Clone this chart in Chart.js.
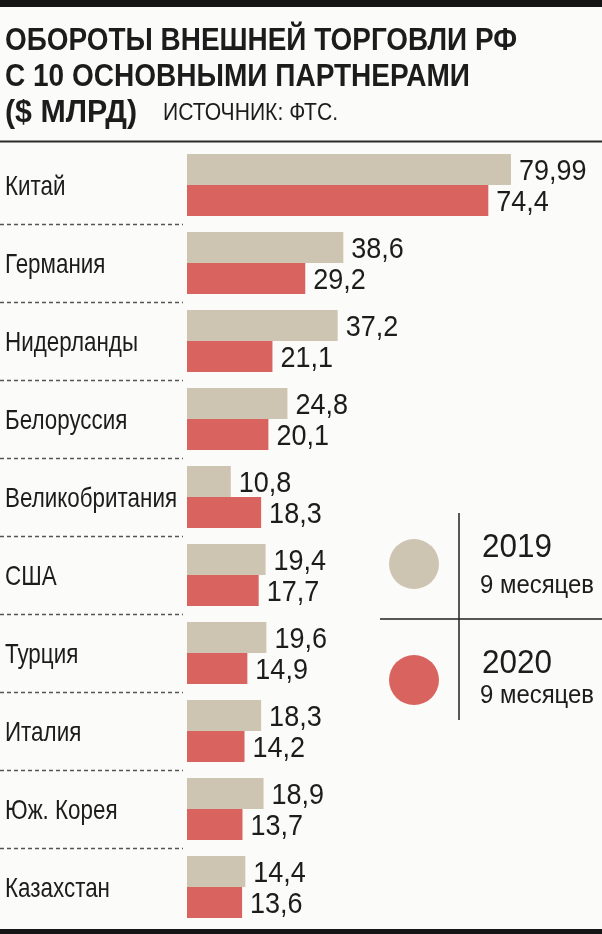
<!DOCTYPE html>
<html>
<head>
<meta charset="utf-8">
<script src="https://cdn.jsdelivr.net/npm/chart.js@4/dist/chart.umd.min.js"></script>
<style>
  html, body { margin: 0; padding: 0; background: #fbfbfa; }
  #wrap { position: relative; width: 602px; height: 934px; }
</style>
</head>
<body>
<div id="wrap"><canvas id="tradeChart" width="602" height="934"></canvas></div>
<script>
const categories = ['Китай', 'Германия', 'Нидерланды', 'Белоруссия', 'Великобритания',
                    'США', 'Турция', 'Италия', 'Юж. Корея', 'Казахстан'];
const values2019 = [79.99, 38.6, 37.2, 24.8, 10.8, 19.4, 19.6, 18.3, 18.9, 14.4];
const values2020 = [74.4, 29.2, 21.1, 20.1, 18.3, 17.7, 14.9, 14.2, 13.7, 13.6];
const seriesLabels = ['2019', '2020'];
const seriesNote = '9 месяцев';
const titleLines = ['ОБОРОТЫ ВНЕШНЕЙ ТОРГОВЛИ РФ', 'С 10 ОСНОВНЫМИ ПАРТНЕРАМИ', '($ МЛРД)'];
const sourceText = 'ИСТОЧНИК: ФТС.';

const GRAY = '#cdc4b1';
const RED = '#d9635f';
const INK = '#1c1c1c';
const FONT = '"Liberation Sans", Arial, sans-serif';

function fmt(v) {
    return String(v).replace('.', ',');
}

// the reference uses a condensed face, so squeeze the text horizontally
function narrowText(ctx, text, x, y, sx) {
    ctx.save();
    ctx.translate(x, y);
    ctx.scale(sx, 1);
    ctx.fillText(text, 0, 0);
    ctx.restore();
}

const decorPlugin = {
    id: 'decor',
    beforeDraw(chart) {
        const ctx = chart.ctx;
        ctx.save();
        ctx.fillStyle = '#fbfbfa';
        ctx.fillRect(0, 0, chart.width, chart.height);
        // top and bottom black rules
        ctx.fillStyle = '#151515';
        ctx.fillRect(0, 0, 602, 7);
        ctx.fillRect(0, 929, 602, 5);
        // rule under the title
        ctx.fillStyle = '#2a2a2a';
        ctx.fillRect(0, 140.5, 602, 2);

        ctx.fillStyle = INK;
        ctx.textBaseline = 'alphabetic';
        ctx.textAlign = 'left';
        ctx.font = 'bold 31px ' + FONT;
        ctx.fillText(titleLines[0], 5, 50, 512);
        ctx.fillText(titleLines[1], 5, 86, 465);
        ctx.fillText(titleLines[2], 5, 122, 132);
        ctx.font = '24px ' + FONT;
        ctx.fillText(sourceText, 163, 120, 175);

        // dotted separators between groups
        const y = chart.scales.y;
        ctx.strokeStyle = '#555';
        ctx.lineWidth = 1.5;
        ctx.setLineDash([4, 3]);
        for (let i = 0; i < categories.length - 1; i++) {
            const yy = Math.round((y.getPixelForValue(i) + y.getPixelForValue(i + 1)) / 2) + 0.5;
            ctx.beginPath();
            ctx.moveTo(0, yy);
            ctx.lineTo(183, yy);
            ctx.stroke();
        }
        ctx.setLineDash([]);

        // category labels, placed on the y scale
        ctx.font = '28px ' + FONT;
        ctx.textBaseline = 'middle';
        categories.forEach((c, i) => {
            narrowText(ctx, c, 5, y.getPixelForValue(i) + 2, 0.8);
        });
        ctx.restore();
    },
    afterDatasetsDraw(chart) {
        const ctx = chart.ctx;
        ctx.save();
        ctx.fillStyle = INK;
        ctx.font = '30px ' + FONT;
        ctx.textAlign = 'left';
        ctx.textBaseline = 'middle';
        chart.data.datasets.forEach((ds, d) => {
            chart.getDatasetMeta(d).data.forEach((bar, i) => {
                narrowText(ctx, fmt(ds.data[i]), bar.x + 8, bar.y + 2, 0.9);
            });
        });

        // legend block
        ctx.strokeStyle = '#222';
        ctx.lineWidth = 1.5;
        ctx.beginPath();
        ctx.moveTo(459, 513);
        ctx.lineTo(459, 720);
        ctx.moveTo(380, 619);
        ctx.lineTo(602, 619);
        ctx.stroke();

        const cols = [GRAY, RED];
        const cy = [564, 680];
        const yearBase = [557, 673];
        const noteBase = [593, 703];
        for (let k = 0; k < 2; k++) {
            ctx.fillStyle = cols[k];
            ctx.beginPath();
            ctx.arc(414, cy[k], 25, 0, Math.PI * 2);
            ctx.fill();
            ctx.fillStyle = INK;
            ctx.textBaseline = 'alphabetic';
            ctx.font = '34px ' + FONT;
            ctx.fillText(seriesLabels[k], 482, yearBase[k], 70);
            ctx.font = '25px ' + FONT;
            ctx.fillText(seriesNote, 480, noteBase[k], 114);
        }
        ctx.restore();
    }
};

new Chart(document.getElementById('tradeChart'), {
    type: 'bar',
    data: {
        labels: categories,
        datasets: [{
            label: seriesLabels[0],
            data: values2019,
            backgroundColor: GRAY,
            categoryPercentage: 0.795,
            barPercentage: 1.0
        }, {
            label: seriesLabels[1],
            data: values2020,
            backgroundColor: RED,
            categoryPercentage: 0.795,
            barPercentage: 1.0
        }]
    },
    options: {
        indexAxis: 'y',
        responsive: false,
        animation: false,
        layout: {
            padding: { top: 146, bottom: 8, left: 187, right: 10 }
        },
        plugins: {
            legend: { display: false },
            tooltip: { enabled: false }
        },
        scales: {
            x: {
                min: 0,
                max: 100,
                display: false
            },
            y: {
                display: false
            }
        }
    },
    plugins: [decorPlugin]
});
</script>
</body>
</html>
